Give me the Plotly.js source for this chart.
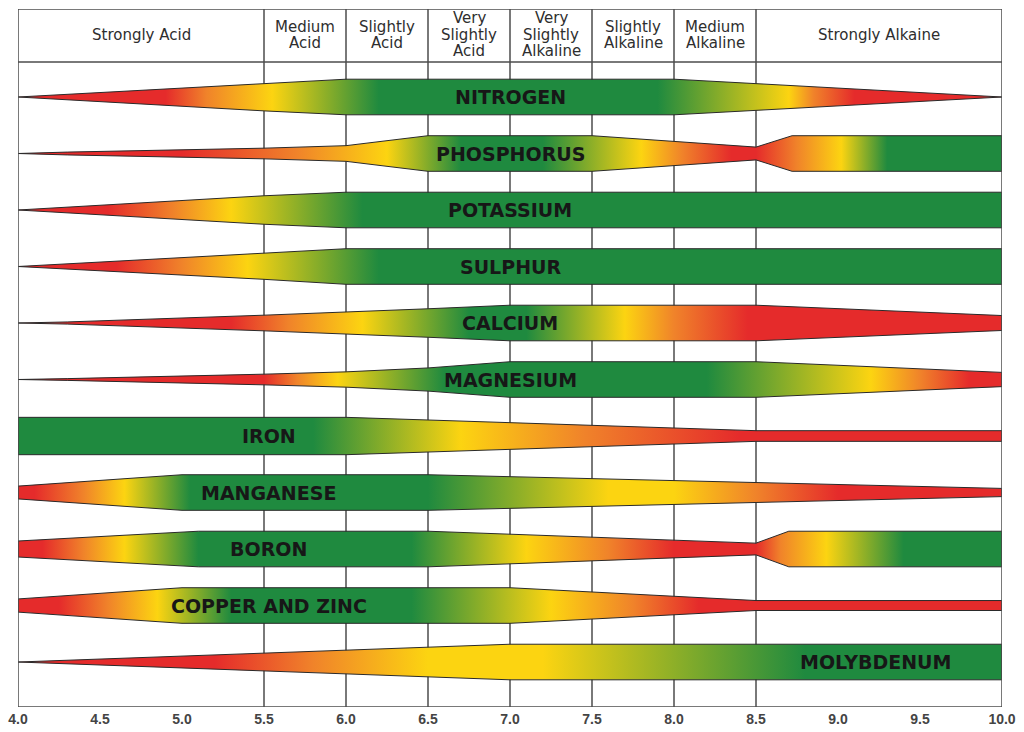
<!DOCTYPE html>
<html><head><meta charset="utf-8">
<script src="https://cdn.plot.ly/plotly-3.0.1.min.js"></script>
<style>html,body{margin:0;padding:0;background:#fff}#chart{width:1024px;height:732px}</style>
</head><body><div id="chart"></div>
<script>
// ---- data ----
const nutrients = ['NITROGEN','PHOSPHORUS','POTASSIUM','SULPHUR','CALCIUM','MAGNESIUM','IRON','MANGANESE','BORON','COPPER AND ZINC','MOLYBDENUM'];
const labelPH = [7.0,7.0,7.0,7.0,7.0,7.0,5.53,5.53,5.53,5.53,9.23];

const phTicks = [4.0,4.5,5.0,5.5,6.0,6.5,7.0,7.5,8.0,8.5,9.0,9.5,10.0];
const phTickText = ['4.0','4.5','5.0','5.5','6.0','6.5','7.0','7.5','8.0','8.5','9.0','9.5','10.0'];
const gridPH = [5.5,6.0,6.5,7.0,7.5,8.0,8.5];
const headerEdges = [4.0,5.5,6.0,6.5,7.0,7.5,8.0,8.5,10.0];
const headerLines = [['Strongly Acid'],['Medium','Acid'],['Slightly','Acid'],['Very','Slightly','Acid'],['Very','Slightly','Alkaline'],['Slightly','Alkaline'],['Medium','Alkaline'],['Strongly Alkaine']];

// band thickness (relative, 0..1) at pH points
const nitrogenShapePH = [4.0,5.5,6.0,8.0,10.0];
const nitrogenShape   = [0,0.78,1,1,0];
const phosphorusShapePH = [4.0,4.3,5.5,6.0,6.5,7.5,8.5,8.72,10.0];
const phosphorusShape   = [0,0.08,0.3,0.44,1,1,0.36,1,1];
const potassiumShapePH = [4.0,5.5,6.0,10.0];
const potassiumShape   = [0,0.8,1,1];
const sulphurShapePH = [4.0,5.5,6.0,10.0];
const sulphurShape   = [0,0.72,1,1];
const calciumShapePH = [4.0,4.3,5.5,6.0,6.5,7.0,8.5,10.0];
const calciumShape   = [0,0.06,0.44,0.6,0.8,1,1,0.42];
const magnesiumShapePH = [4.0,4.3,5.5,6.0,6.5,7.0,8.5,10.0];
const magnesiumShape   = [0,0.05,0.3,0.43,0.65,1,1,0.4];
const ironShapePH = [4.0,6.0,8.5,10.0];
const ironShape   = [1.05,1.05,0.3,0.3];
const manganeseShapePH = [4.0,5.0,6.5,10.0];
const manganeseShape   = [0.36,1,1,0.23];
const boronShapePH = [4.0,5.1,6.5,8.5,8.7,10.0];
const boronShape   = [0.45,1,1,0.33,1,1];
const copperZincShapePH = [4.0,5.0,7.0,8.5,10.0];
const copperZincShape   = [0.37,1,1,0.28,0.28];
const molybdenumShapePH = [4.0,7.0,10.0];
const molybdenumShape   = [0,1,1];

// band colour stops (R red, O orange, Y yellow, G green) at pH points
const nitrogenColorPH = [4.0,4.9,5.15,5.55,6.2,7.9,8.7,8.85,9.1,10.0];
const nitrogenColor   = ['R','R','O','Y','G','G','Y','O','R','R'];
const phosphorusColorPH = [4.0,5.0,5.7,6.25,6.7,7.2,7.8,8.05,8.35,8.5,8.75,9.02,9.3,10.0];
const phosphorusColor   = ['R','R','O','Y','G','G','Y','O','R','R','O','Y','G','G'];
const potassiumColorPH = [4.0,4.55,4.95,5.3,6.1,10.0];
const potassiumColor   = ['R','R','O','Y','G','G'];
const sulphurColorPH = [4.0,4.6,5.0,5.4,6.2,10.0];
const sulphurColor   = ['R','R','O','Y','G','G'];
const calciumColorPH = [4.0,5.3,5.65,6.1,6.75,7.1,7.7,8.0,8.45,10.0];
const calciumColor   = ['R','R','O','Y','G','G','Y','O','R','R'];
const magnesiumColorPH = [4.0,5.5,5.7,5.95,6.6,8.2,9.2,9.5,9.8,10.0];
const magnesiumColor   = ['R','R','O','Y','G','G','Y','O','R','R'];
const ironColorPH = [4.0,5.8,6.7,7.45,8.4,10.0];
const ironColor   = ['G','G','Y','O','R','R'];
const manganeseColorPH = [4.0,4.1,4.4,4.65,5.05,6.5,7.6,8.0,8.5,9.0,10.0];
const manganeseColor   = ['R','R','O','Y','G','G','Y','Y','O','R','R'];
const boronColorPH = [4.0,4.15,4.4,4.65,5.1,6.4,7.1,7.6,8.0,8.5,8.65,8.93,9.4,10.0];
const boronColor   = ['R','R','O','Y','G','G','Y','O','R','R','O','Y','G','G'];
const copperZincColorPH = [4.0,4.25,4.55,4.85,5.3,6.4,7.25,7.75,8.15,10.0];
const copperZincColor   = ['R','R','O','Y','G','G','Y','O','R','R'];
const molybdenumColorPH = [4.0,5.2,5.8,6.5,7.2,8.8,10.0];
const molybdenumColor   = ['R','R','O','Y','Y','G','G'];

// ---- build ----
const palette = {R:'#e52b2b', O:'#f0832a', Y:'#fcd411', G:'#1f8a3f'};
const bands = [
  [nitrogenShapePH,nitrogenShape,nitrogenColorPH,nitrogenColor],
  [phosphorusShapePH,phosphorusShape,phosphorusColorPH,phosphorusColor],
  [potassiumShapePH,potassiumShape,potassiumColorPH,potassiumColor],
  [sulphurShapePH,sulphurShape,sulphurColorPH,sulphurColor],
  [calciumShapePH,calciumShape,calciumColorPH,calciumColor],
  [magnesiumShapePH,magnesiumShape,magnesiumColorPH,magnesiumColor],
  [ironShapePH,ironShape,ironColorPH,ironColor],
  [manganeseShapePH,manganeseShape,manganeseColorPH,manganeseColor],
  [boronShapePH,boronShape,boronColorPH,boronColor],
  [copperZincShapePH,copperZincShape,copperZincColorPH,copperZincColor],
  [molybdenumShapePH,molybdenumShape,molybdenumColorPH,molybdenumColor]
];
const HALF = 0.315;
const PHMIN = 4, PHMAX = 10;
const traces = [];
bands.forEach((b,i)=>{
  const [px,w,cpx,cc] = b;
  const rx = px.slice().reverse(), rw = w.slice().reverse();
  const xs = px.concat(rx);
  const ys = w.map(v=>i - HALF*v).concat(rw.map(v=>i + HALF*v));
  xs.push(xs[0]); ys.push(ys[0]);
  traces.push({
    type:'scatter', mode:'lines', x:xs, y:ys, fill:'toself',
    fillgradient:{type:'horizontal', start:PHMIN, stop:PHMAX,
      colorscale: cpx.map((p,k)=>[(p-PHMIN)/(PHMAX-PHMIN), palette[cc[k]]])},
    line:{color:'#2a2a2a', width:1}, hoverinfo:'skip', showlegend:false
  });
});

const Y_TOP = -1.5575, Y_BOT = 10.796, Y_HEAD = -0.62;
const annotations = [];
nutrients.forEach((n,i)=>{
  annotations.push({x:labelPH[i], y:i, xref:'x', yref:'y', text:n, showarrow:false,
    font:{family:'DejaVu Sans', size:19, weight:700, color:'#171717'}});
});
const LINE = 0.292, HEAD_C = -1.1;
headerLines.forEach((lines,k)=>{
  const cx = (headerEdges[k]+headerEdges[k+1])/2;
  lines.forEach((t,j)=>{
    annotations.push({x:cx, y:HEAD_C + (j-(lines.length-1)/2)*LINE, xref:'x', yref:'y', text:t,
      showarrow:false, font:{family:'DejaVu Sans', size:15, color:'#2e2e2e'}});
  });
});

const shapes = [];
gridPH.forEach(g=>shapes.push({type:'line', xref:'x', yref:'y', x0:g, x1:g, y0:Y_TOP, y1:Y_BOT, layer:'below', line:{color:'#4d4d4d', width:1.5}}));
shapes.push({type:'line', xref:'x', yref:'y', x0:PHMIN, x1:PHMAX, y0:Y_HEAD, y1:Y_HEAD, layer:'below', line:{color:'#4d4d4d', width:1.5}});
shapes.push({type:'rect', xref:'x', yref:'y', x0:PHMIN, x1:PHMAX, y0:Y_TOP, y1:Y_BOT, layer:'above', line:{color:'#4d4d4d', width:1.5}});

const layout = {
  width:1024, height:732, margin:{l:18, r:22, t:9, b:25},
  paper_bgcolor:'#fff', plot_bgcolor:'#fff', showlegend:false,
  xaxis:{range:[PHMIN,PHMAX], tickvals:phTicks, ticktext:phTickText, showgrid:false, zeroline:false, showline:false, ticks:'',
    ticklabelstandoff:2, tickfont:{family:'Liberation Sans', size:14, weight:600, color:'#444'}, fixedrange:true},
  yaxis:{range:[Y_BOT,Y_TOP], visible:false, showgrid:false, zeroline:false, fixedrange:true},
  annotations, shapes
};
Plotly.newPlot('chart', traces, layout, {displayModeBar:false, staticPlot:true});
</script></body></html>
